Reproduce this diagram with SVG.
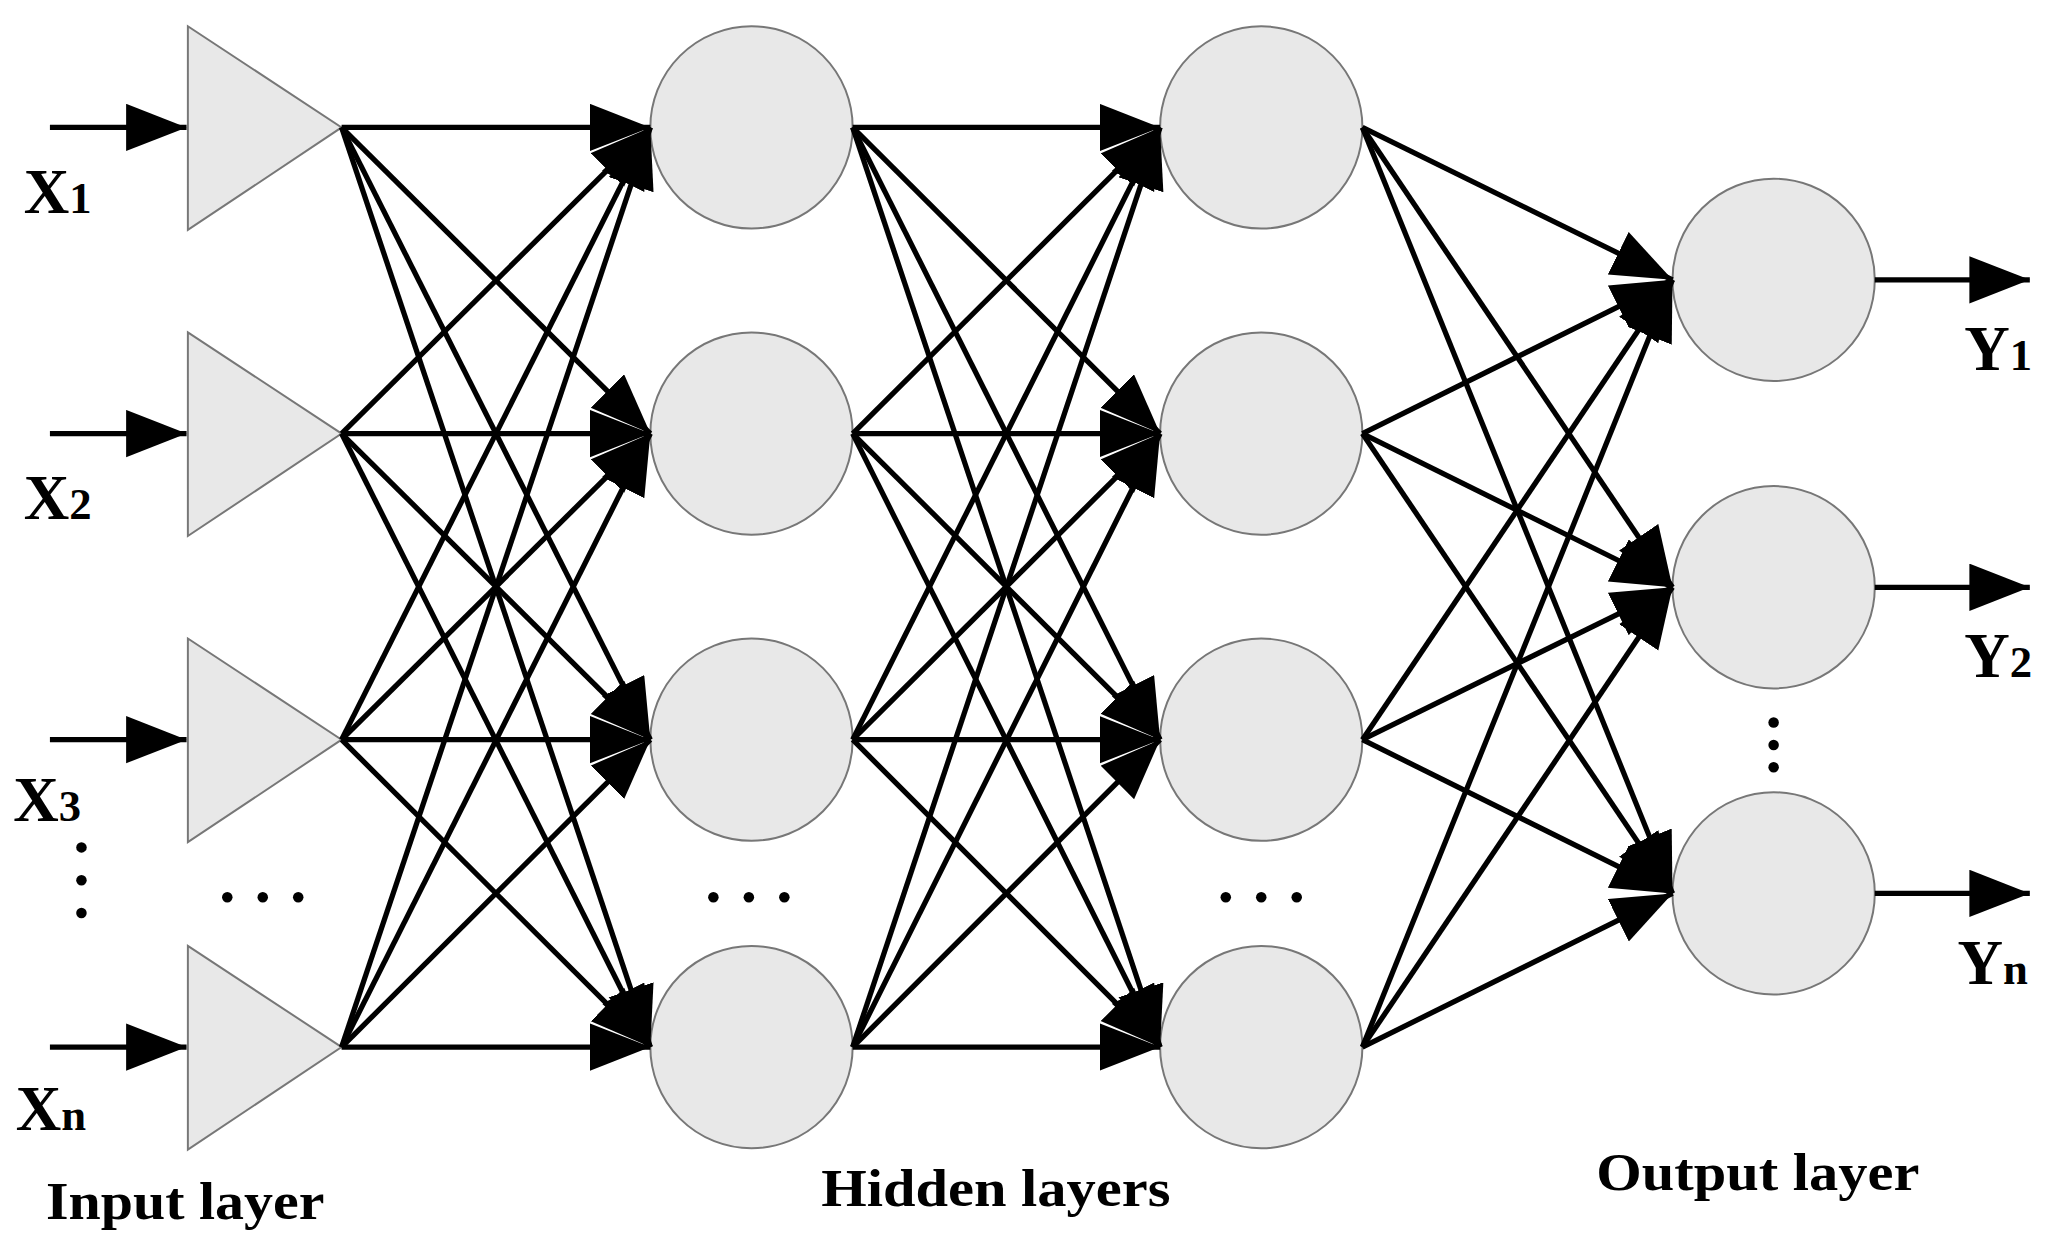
<svg xmlns="http://www.w3.org/2000/svg" width="2060" height="1242" viewBox="0 0 2060 1242">
<style>
.n{fill:#e8e8e8;stroke:#777;stroke-width:1.5}
.c line{stroke:#000;stroke-width:4;marker-end:url(#a)}
.t{font-family:"Liberation Serif",serif;font-weight:bold;fill:#000}
.l{font-size:48px}
.s{font-size:34px}
</style>
<defs><marker id="a" markerUnits="userSpaceOnUse" markerWidth="48" markerHeight="38" refX="46" refY="18" orient="auto"><path d="M0,0 L46,18 L0,36 z" fill="#000"/></marker></defs>
<rect width="2060" height="1242" fill="#fff"/>
<g transform="scale(1.3138)">
<g id="in1"><polygon class="n" points="143,20 260,97 143,175"/></g>
<g id="in2"><polygon class="n" points="143,253 260,330 143,408"/></g>
<g id="in3"><polygon class="n" points="143,486 260,563 143,641"/></g>
<g id="inn"><polygon class="n" points="143,720 260,797 143,875"/></g>
<g id="h11"><circle class="n" cx="572" cy="97" r="77"/></g>
<g id="h12"><circle class="n" cx="572" cy="330" r="77"/></g>
<g id="h13"><circle class="n" cx="572" cy="563" r="77"/></g>
<g id="h14"><circle class="n" cx="572" cy="797" r="77"/></g>
<g id="h21"><circle class="n" cx="960" cy="97" r="77"/></g>
<g id="h22"><circle class="n" cx="960" cy="330" r="77"/></g>
<g id="h23"><circle class="n" cx="960" cy="563" r="77"/></g>
<g id="h24"><circle class="n" cx="960" cy="797" r="77"/></g>
<g id="o1"><circle class="n" cx="1350" cy="213" r="77"/></g>
<g id="o2"><circle class="n" cx="1350" cy="447" r="77"/></g>
<g id="on"><circle class="n" cx="1350" cy="680" r="77"/></g>
<g class="c" id="connectors">
<line x1="38" y1="97" x2="142" y2="97"/><line x1="38" y1="330" x2="142" y2="330"/><line x1="38" y1="563" x2="142" y2="563"/><line x1="38" y1="797" x2="142" y2="797"/>
<line x1="260" y1="97" x2="495" y2="97"/><line x1="260" y1="97" x2="495" y2="330"/><line x1="260" y1="97" x2="495" y2="563"/><line x1="260" y1="97" x2="495" y2="797"/>
<line x1="260" y1="330" x2="495" y2="97"/><line x1="260" y1="330" x2="495" y2="330"/><line x1="260" y1="330" x2="495" y2="563"/><line x1="260" y1="330" x2="495" y2="797"/>
<line x1="260" y1="563" x2="495" y2="97"/><line x1="260" y1="563" x2="495" y2="330"/><line x1="260" y1="563" x2="495" y2="563"/><line x1="260" y1="563" x2="495" y2="797"/>
<line x1="260" y1="797" x2="495" y2="97"/><line x1="260" y1="797" x2="495" y2="330"/><line x1="260" y1="797" x2="495" y2="563"/><line x1="260" y1="797" x2="495" y2="797"/>
<line x1="649" y1="97" x2="883" y2="97"/><line x1="649" y1="97" x2="883" y2="330"/><line x1="649" y1="97" x2="883" y2="563"/><line x1="649" y1="97" x2="883" y2="797"/>
<line x1="649" y1="330" x2="883" y2="97"/><line x1="649" y1="330" x2="883" y2="330"/><line x1="649" y1="330" x2="883" y2="563"/><line x1="649" y1="330" x2="883" y2="797"/>
<line x1="649" y1="563" x2="883" y2="97"/><line x1="649" y1="563" x2="883" y2="330"/><line x1="649" y1="563" x2="883" y2="563"/><line x1="649" y1="563" x2="883" y2="797"/>
<line x1="649" y1="797" x2="883" y2="97"/><line x1="649" y1="797" x2="883" y2="330"/><line x1="649" y1="797" x2="883" y2="563"/><line x1="649" y1="797" x2="883" y2="797"/>
<line x1="1037" y1="97" x2="1273" y2="213"/><line x1="1037" y1="97" x2="1273" y2="447"/><line x1="1037" y1="97" x2="1273" y2="680"/>
<line x1="1037" y1="330" x2="1273" y2="213"/><line x1="1037" y1="330" x2="1273" y2="447"/><line x1="1037" y1="330" x2="1273" y2="680"/>
<line x1="1037" y1="563" x2="1273" y2="213"/><line x1="1037" y1="563" x2="1273" y2="447"/><line x1="1037" y1="563" x2="1273" y2="680"/>
<line x1="1037" y1="797" x2="1273" y2="213"/><line x1="1037" y1="797" x2="1273" y2="447"/><line x1="1037" y1="797" x2="1273" y2="680"/>
<line x1="1427" y1="213" x2="1545" y2="213"/><line x1="1427" y1="447" x2="1545" y2="447"/><line x1="1427" y1="680" x2="1545" y2="680"/>
</g>
<g fill="#000">
<circle cx="62" cy="645" r="4"/><circle cx="62" cy="670" r="4"/><circle cx="62" cy="695" r="4"/>
<circle cx="173" cy="683" r="4"/><circle cx="200" cy="683" r="4"/><circle cx="227" cy="683" r="4"/>
<circle cx="543" cy="683" r="4"/><circle cx="570" cy="683" r="4"/><circle cx="597" cy="683" r="4"/>
<circle cx="933" cy="683" r="4"/><circle cx="960" cy="683" r="4"/><circle cx="987" cy="683" r="4"/>
<circle cx="1350" cy="550" r="4"/><circle cx="1350" cy="567" r="4"/><circle cx="1350" cy="584" r="4"/>
</g>
<text class="t l" x="18" y="162">X<tspan class="s">1</tspan></text>
<text class="t l" x="18" y="395">X<tspan class="s">2</tspan></text>
<text class="t l" x="10" y="625">X<tspan class="s">3</tspan></text>
<text class="t l" x="12" y="860">X<tspan class="s">n</tspan></text>
<text class="t l" x="1495" y="282">Y<tspan class="s">1</tspan></text>
<text class="t l" x="1495" y="515">Y<tspan class="s">2</tspan></text>
<text class="t l" x="1490" y="749">Y<tspan class="s">n</tspan></text>
<text class="t" font-size="40" x="35" y="928" textLength="212" lengthAdjust="spacingAndGlyphs">Input layer</text>
<text class="t" font-size="40" x="625" y="918" textLength="266" lengthAdjust="spacingAndGlyphs">Hidden layers</text>
<text class="t" font-size="40" x="1215" y="906" textLength="246" lengthAdjust="spacingAndGlyphs">Output layer</text>
</g>
</svg>
